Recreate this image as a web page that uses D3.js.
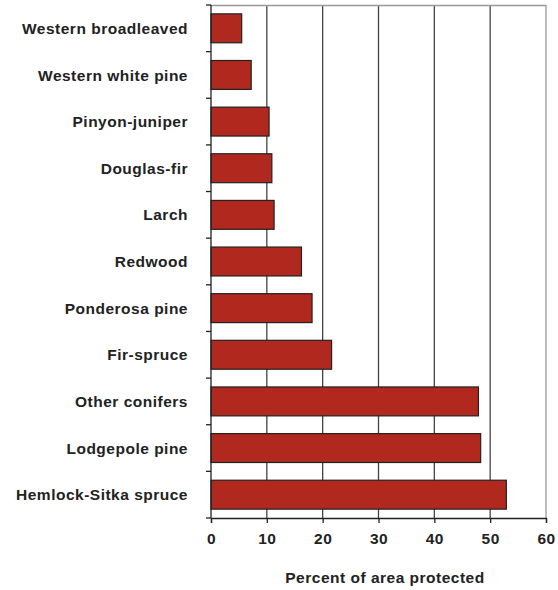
<!DOCTYPE html>
<html>
<head>
<meta charset="utf-8">
<script src="https://cdn.jsdelivr.net/npm/d3@7"></script>
<style>
body{margin:0;background:#fff;}
text{font-family:"Liberation Sans",Arial,sans-serif;font-weight:bold;fill:#222;}
</style>
</head>
<body>
<svg id="chart" width="558" height="590"></svg>
<script>
const categories = ["Western broadleaved","Western white pine","Pinyon-juniper","Douglas-fir","Larch","Redwood","Ponderosa pine","Fir-spruce","Other conifers","Lodgepole pine","Hemlock-Sitka spruce"];
const values = [5.5, 7.2, 10.4, 10.9, 11.3, 16.2, 18.1, 21.6, 47.9, 48.3, 52.9];
const xTicks = [0,10,20,30,40,50,60];
const xTitle = "Percent of area protected";

const svg = d3.select("#chart");
const pLeft = 211, pRight = 546, pTop = 5, pBottom = 518;

const x = d3.scaleLinear().domain([0,60]).range([pLeft,pRight]);
const y = d3.scaleBand().domain(categories).range([pTop,pBottom]).paddingInner(0.38).paddingOuter(0.19);

// gridlines
svg.append("g").selectAll("line").data(xTicks.filter(d=>d>0 && d<60)).join("line")
  .attr("x1",d=>x(d)).attr("x2",d=>x(d)).attr("y1",pTop).attr("y2",pBottom)
  .attr("stroke","#444").attr("stroke-width",1.3);
// frame top & right
svg.append("line").attr("x1",pLeft).attr("x2",pRight).attr("y1",pTop+0.5).attr("y2",pTop+0.5).attr("stroke","#999").attr("stroke-width",1.3);
svg.append("line").attr("x1",pRight).attr("x2",pRight).attr("y1",pTop).attr("y2",pBottom).attr("stroke","#999").attr("stroke-width",1.3);

// bars
svg.append("g").selectAll("rect").data(values).join("rect")
  .attr("x",x(0)).attr("y",(d,i)=>y(categories[i]))
  .attr("width",d=>x(d)-x(0)).attr("height",y.bandwidth())
  .attr("fill","#b0281e").attr("stroke","#222").attr("stroke-width",1.2);

// left axis with category ticks at band edges
const yEdge = d3.scaleLinear().domain([0,categories.length]).range([pTop,pBottom]);
const ga = svg.append("g");
ga.append("line").attr("x1",pLeft).attr("x2",pLeft).attr("y1",pTop).attr("y2",pBottom).attr("stroke","#222").attr("stroke-width",1.3);
ga.selectAll("line.t").data(d3.range(categories.length+1)).join("line").attr("class","t")
  .attr("x1",pLeft-5).attr("x2",pLeft).attr("y1",d=>yEdge(d)).attr("y2",d=>yEdge(d)).attr("stroke","#222").attr("stroke-width",1.3);
ga.selectAll("text").data(categories).join("text")
  .attr("x",188).attr("y",d=>y(d)+y.bandwidth()/2).attr("dy","0.36em")
  .attr("text-anchor","end").attr("font-size",15.5).attr("letter-spacing",0.5).text(d=>d);

// bottom axis
const xAxis = d3.axisBottom(x).tickValues(xTicks).tickSize(5).tickPadding(10).tickFormat(d3.format("d"));
const gx = svg.append("g").attr("transform",`translate(0,${pBottom})`).call(xAxis);
gx.select(".domain").attr("stroke","#222").attr("stroke-width",1.3);
gx.selectAll(".tick line").attr("stroke","#222").attr("stroke-width",1.3);
gx.selectAll(".tick text").attr("font-size",15.5).attr("letter-spacing",0.5).attr("fill","#222").style("font-family","'Liberation Sans',Arial,sans-serif").style("font-weight","bold");

svg.append("text").attr("x",385).attr("y",583).attr("text-anchor","middle").attr("font-size",15.5).attr("letter-spacing",0.5).text(xTitle);
</script>
</body>
</html>
